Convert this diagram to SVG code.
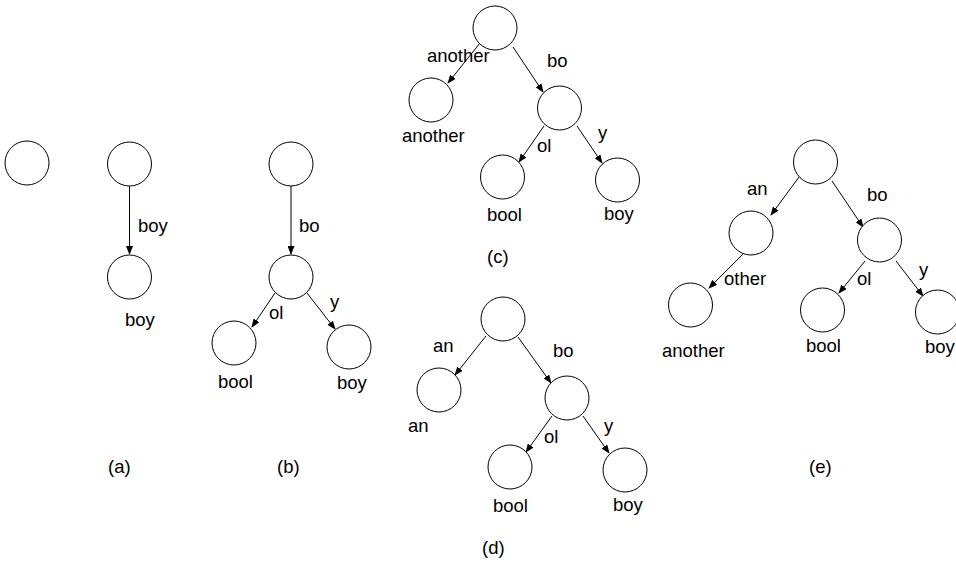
<svg xmlns="http://www.w3.org/2000/svg" width="956" height="563" viewBox="0 0 956 563">
<style>
.n{fill:#fff;stroke:#000;stroke-width:1}
.e{stroke:#000;stroke-width:1;fill:none;marker-end:url(#ah)}
text{font-family:"Liberation Sans",Arial,sans-serif;font-size:18.5px;fill:#000}
</style>
<defs>
<marker id="ah" markerUnits="userSpaceOnUse" markerWidth="9" markerHeight="7" refX="8" refY="3.5" orient="auto">
<path d="M0,0 L9,3.5 L0,7 z" fill="#000"/>
</marker>
</defs>
<rect width="956" height="563" fill="#fff"/>
<g id="connectors">
<line class="e" x1="129.5" y1="186" x2="129.5" y2="254"/>
<line class="e" x1="291" y1="186" x2="291" y2="254"/>
<line class="e" x1="275" y1="293" x2="252" y2="327"/>
<line class="e" x1="307" y1="293" x2="335" y2="329"/>
<line class="e" x1="480" y1="43" x2="448" y2="83"/>
<line class="e" x1="513" y1="47" x2="543" y2="92"/>
<line class="e" x1="544" y1="126" x2="519" y2="162"/>
<line class="e" x1="577" y1="126" x2="602" y2="163"/>
<line class="e" x1="486" y1="336" x2="455" y2="375"/>
<line class="e" x1="518" y1="337" x2="551" y2="383"/>
<line class="e" x1="552" y1="416" x2="526" y2="452"/>
<line class="e" x1="583" y1="416" x2="609" y2="453"/>
<line class="e" x1="799" y1="177" x2="771" y2="215"/>
<line class="e" x1="832" y1="181" x2="863" y2="227"/>
<line class="e" x1="743" y1="254" x2="709" y2="288"/>
<line class="e" x1="865" y1="261" x2="839" y2="293"/>
<line class="e" x1="896" y1="261" x2="923" y2="296"/>
</g>
<g id="tree-a">
<g id="a-root"><circle class="n" cx="27" cy="163" r="22"/></g>
</g>
<g id="tree-a2">
<g id="a2-root"><circle class="n" cx="129.5" cy="164" r="22"/></g>
<g id="a2-boy"><circle class="n" cx="129.5" cy="277" r="22"/><text x="125" y="326">boy</text></g>
<text x="138" y="232">boy</text>
<text x="108" y="473">(a)</text>
</g>
<g id="tree-b">
<g id="b-root"><circle class="n" cx="291" cy="164" r="22"/></g>
<g id="b-bo"><circle class="n" cx="291" cy="277" r="22"/></g>
<g id="b-bool"><circle class="n" cx="234" cy="343" r="22"/><text x="218" y="388">bool</text></g>
<g id="b-boy"><circle class="n" cx="349" cy="347" r="22"/><text x="337" y="389">boy</text></g>
<text x="299" y="232">bo</text>
<text x="269" y="319">ol</text>
<text x="330" y="308">y</text>
<text x="277" y="473">(b)</text>
</g>
<g id="tree-c">
<g id="c-root"><circle class="n" cx="495" cy="28" r="22"/></g>
<g id="c-another"><circle class="n" cx="431" cy="100" r="22"/><text x="402" y="142">another</text></g>
<g id="c-bo"><circle class="n" cx="559.5" cy="108" r="22"/></g>
<g id="c-bool"><circle class="n" cx="502.5" cy="177" r="22"/><text x="487" y="221">bool</text></g>
<g id="c-boy"><circle class="n" cx="617.5" cy="180" r="22"/><text x="604" y="220">boy</text></g>
<text x="427" y="62">another</text>
<text x="547" y="67">bo</text>
<text x="537" y="152">ol</text>
<text x="598" y="139">y</text>
<text x="487" y="263">(c)</text>
</g>
<g id="tree-d">
<g id="d-root"><circle class="n" cx="503" cy="319" r="22"/></g>
<g id="d-an"><circle class="n" cx="439" cy="390" r="22"/><text x="408" y="432">an</text></g>
<g id="d-bo"><circle class="n" cx="567" cy="398" r="22"/></g>
<g id="d-bool"><circle class="n" cx="510" cy="467" r="22"/><text x="493" y="512">bool</text></g>
<g id="d-boy"><circle class="n" cx="625" cy="470" r="22"/><text x="613" y="511">boy</text></g>
<text x="433" y="352">an</text>
<text x="553" y="357">bo</text>
<text x="544" y="443">ol</text>
<text x="604" y="432">y</text>
<text x="482" y="554">(d)</text>
</g>
<g id="tree-e">
<g id="e-root"><circle class="n" cx="815.5" cy="162" r="22"/></g>
<g id="e-an"><circle class="n" cx="751" cy="233" r="22"/></g>
<g id="e-another"><circle class="n" cx="690.5" cy="305" r="22"/><text x="662" y="357">another</text></g>
<g id="e-bo"><circle class="n" cx="879.5" cy="240" r="22"/></g>
<g id="e-bool"><circle class="n" cx="822.5" cy="310" r="22"/><text x="806" y="352">bool</text></g>
<g id="e-boy"><circle class="n" cx="937.5" cy="312" r="22"/><text x="925" y="353">boy</text></g>
<text x="747" y="195">an</text>
<text x="867" y="201">bo</text>
<text x="724" y="285">other</text>
<text x="857" y="285">ol</text>
<text x="919" y="276">y</text>
<text x="809" y="473">(e)</text>
</g>
</svg>
